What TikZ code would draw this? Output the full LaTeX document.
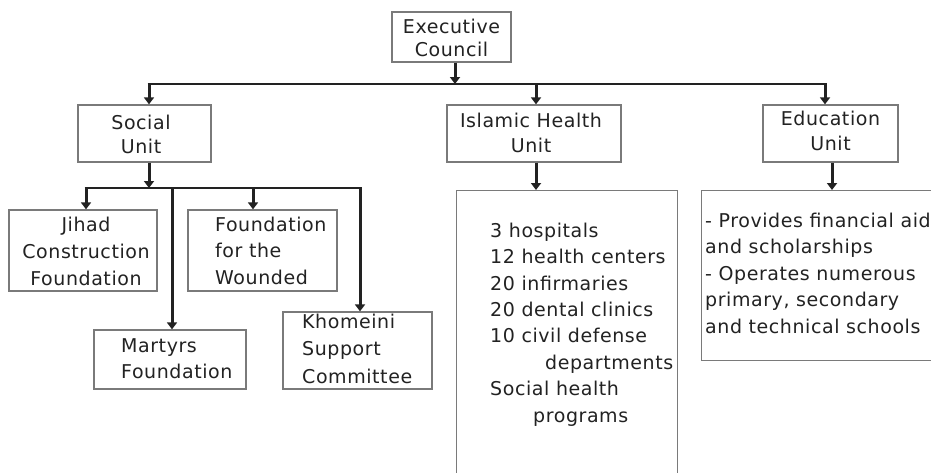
\documentclass[tikz,border=0pt]{standalone}
\usepackage{fontspec}
\setmainfont[LetterSpace=3]{DejaVu Sans}
\usetikzlibrary{arrows.meta}
\definecolor{ink}{HTML}{222222}
\definecolor{frame}{HTML}{7A7A7A}
\begin{document}
\begin{tikzpicture}[x=1pt,y=-1pt,
  box/.style={draw=frame,line width=1.3pt,inner sep=0pt},
  txt/.style={inner sep=0pt,text=ink},
  arr/.style={draw=ink,line width=3pt,-{Triangle[length=7pt,width=10pt]}},
  bus/.style={draw=ink,line width=2.2pt}]
\useasboundingbox (0,0) rectangle (931,472);
\clip (0,0) rectangle (931,472);
\fill[white] (0,0) rectangle (931,472);
% boxes
\node[box,minimum width=119pt,minimum height=50pt] (exec) at (451.5,37) {};
\node[box,minimum width=133pt,minimum height=57pt] (social) at (144.5,133.5) {};
\node[box,minimum width=174pt,minimum height=57pt] (health) at (534,133.5) {};
\node[box,minimum width=135pt,minimum height=57pt] (edu) at (830.5,133.5) {};
\node[box,minimum width=148pt,minimum height=81pt] (jihad) at (83,250.5) {};
\node[box,minimum width=149pt,minimum height=81pt] (wounded) at (262.5,250.5) {};
\node[box,minimum width=152pt,minimum height=59pt] (martyrs) at (170,359.5) {};
\node[box,minimum width=149pt,minimum height=77pt] (khomeini) at (357.5,350.5) {};
\node[box,anchor=north west,minimum width=221pt,minimum height=320pt] (hlist) at (456,190) {};
\node[box,anchor=north west,minimum width=260pt,minimum height=170pt] (elist) at (701,190) {};
% texts (anchor base = baseline of the last line)
\node[txt,align=center,anchor=base,font=\fontsize{19}{23}\selectfont] (execT) at (451.5,56) {Executive\\Council};
\node[txt,align=center,anchor=base,font=\fontsize{19}{24}\selectfont] (socialT) at (141,153) {Social\\Unit};
\node[txt,align=center,anchor=base,font=\fontsize{19}{25}\selectfont] (healthT) at (531,152) {Islamic Health\\Unit};
\node[txt,align=center,anchor=base,font=\fontsize{19}{25}\selectfont] (eduT) at (830.5,150) {Education\\Unit};
\node[txt,align=center,anchor=base,font=\fontsize{19}{27}\selectfont] (jihadT) at (86,285) {Jihad\\Construction\\Foundation};
\node[txt,align=left,anchor=base west,font=\fontsize{19}{26.5}\selectfont] (woundedT) at (215,284) {Foundation\\for the\\Wounded};
\node[txt,align=left,anchor=base west,font=\fontsize{19}{26}\selectfont] (martyrsT) at (121,378) {Martyrs\\Foundation};
\node[txt,align=left,anchor=base west,font=\fontsize{19}{27.5}\selectfont] (khomeiniT) at (302,383) {Khomeini\\Support\\Committee};
\node[txt,align=left,anchor=base west,font=\fontsize{19}{26.4}\selectfont] (hlistT) at (490,422) {3 hospitals\\12 health centers\\20 infirmaries\\20 dental clinics\\10 civil defense\\\hspace*{55pt}departments\\Social health\\\hspace*{43pt}programs};
\node[txt,align=left,anchor=base west,font=\fontsize{19}{26.5}\selectfont] (elistT) at (705,333) {- Provides financial aid\\and scholarships\\- Operates numerous\\primary, secondary\\and technical schools};
% connectors
\coordinate (busL) at (149,84);
\coordinate (busR) at (825,84);
\coordinate (busX) at (455,84);
\coordinate (busH) at (536,84);
\coordinate (edrop) at (832,0);
\draw[bus] ([xshift=-1.5pt]busL) -- ([xshift=1.5pt]busR);
\draw[arr] (exec.south -| busX) -- (busX);
\draw[arr] (busL) -- (busL |- social.north);
\draw[arr] (busH) -- (busH |- health.north);
\draw[arr] (busR) -- (busR |- edu.north);
\draw[arr] (health.south -| busH) -- (busH |- hlist.north);
\draw[arr] (edu.south -| edrop) -- (edrop |- elist.north);
\coordinate (sbus) at (149,188);
\coordinate (sbL) at (86,188);
\coordinate (sbM) at (172,188);
\coordinate (sbW) at (253,188);
\coordinate (sbR) at (360,188);
\draw[arr] (social.south -| sbus) -- (sbus);
\draw[bus] ([xshift=-1.5pt]sbL) -- ([xshift=1.5pt]sbR);
\draw[arr] (sbL) -- (sbL |- jihad.north);
\draw[arr] (sbM) -- (sbM |- martyrs.north);
\draw[arr] (sbW) -- (sbW |- wounded.north);
\draw[arr] (sbR) -- (sbR |- khomeini.north);
\end{tikzpicture}
\end{document}
